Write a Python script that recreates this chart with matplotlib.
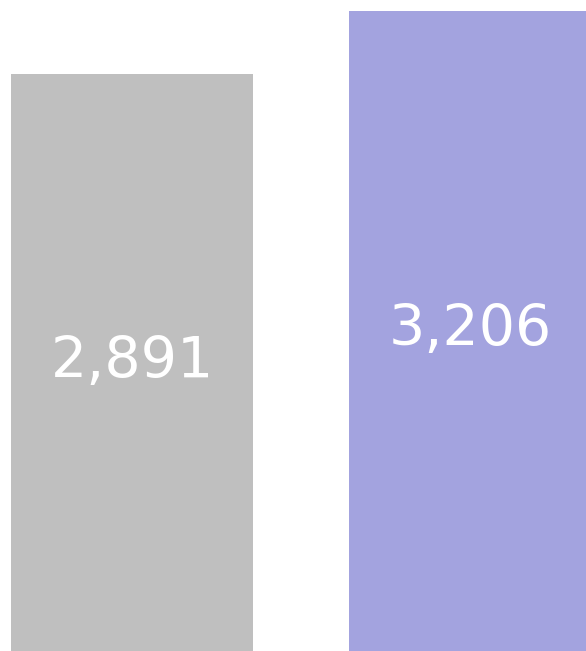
import matplotlib
matplotlib.use('Agg')
import matplotlib.pyplot as plt

labels = ['A', 'B']
values = [2891, 3206]
colors = ['#BFBFBF', '#A3A3DF']

fig = plt.figure(figsize=(5.86, 6.51), dpi=100)
ax = fig.add_axes([0, 0, 1, 1])

x = [0, 1]
ax.bar(x, values, width=0.716, color=colors)

# value labels in the middle of each bar
for xi, v in zip(x, values):
    ax.text(xi, v / 2, f'{v:,}', ha='center', va='center',
            color='white', fontsize=41, family='DejaVu Sans')

ax.set_xlim(-0.3905, 1.343)
ax.set_ylim(0, 3261)
ax.axis('off')

fig.savefig('out.png', dpi=100)
